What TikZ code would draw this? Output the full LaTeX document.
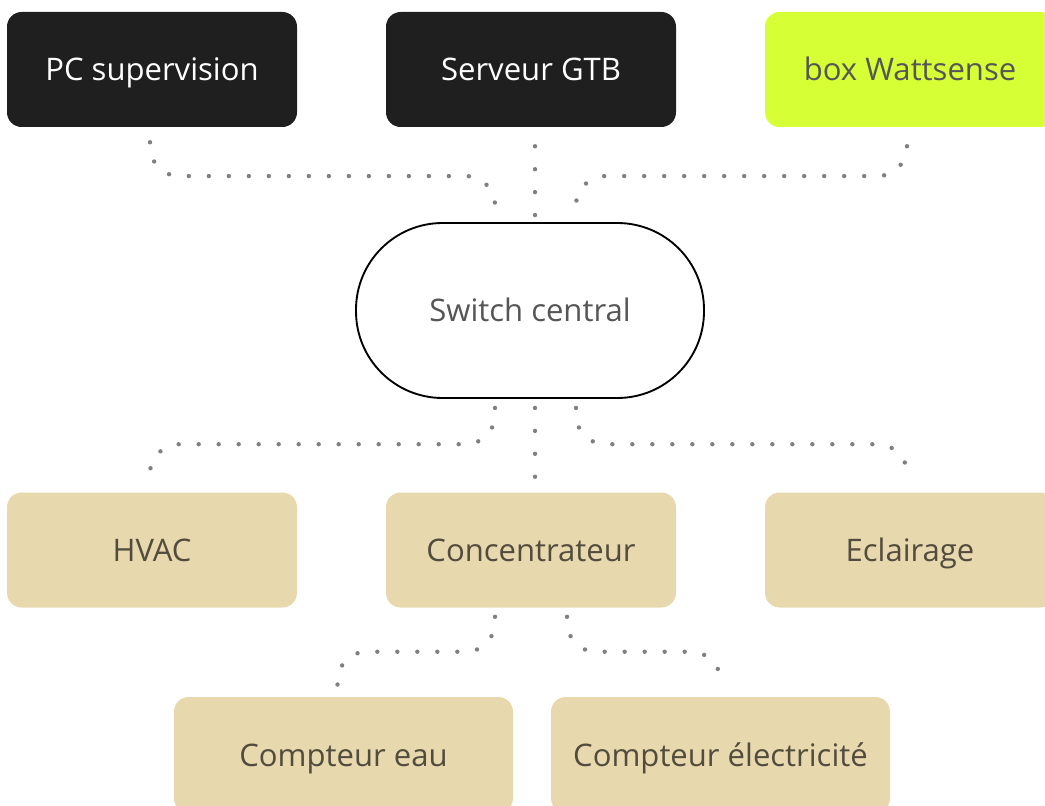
\documentclass[tikz,border=0pt]{standalone}
\usepackage{fontspec}
\setmainfont{Open Sans}
\usetikzlibrary{calc}

\definecolor{boxblack}{HTML}{1F1F1F}
\definecolor{wattlime}{HTML}{D7FF36}
\definecolor{sand}{HTML}{E8D8AD}
\definecolor{dotgray}{HTML}{808080}
\definecolor{inkgray}{HTML}{565656}
\definecolor{inksand}{HTML}{524C3E}

\tikzset{
  label font/.style={font=\fontsize{23.3}{28}\selectfont, text height=16.7pt, text depth=0pt},
  block/.style={rounded corners=11pt, minimum width=217.5pt, minimum height=86.25pt, inner sep=0pt, label font},
  darkbox/.style={block, fill=boxblack, text=white},
  limebox/.style={block, fill=wattlime, text=inkgray},
  sandbox/.style={block, fill=sand, text=inksand},
  meterbox/.style={sandbox, minimum width=254.25pt, minimum height=87pt},
  hub/.style={draw=black, line width=1.4pt, fill=white, rounded corners=65pt, minimum width=261pt, minimum height=131.25pt, inner sep=0pt, text=inkgray, label font},
  link/.style={dotgray, line width=3.3pt, line cap=round, dash pattern=on 0pt off 15pt, rounded corners=22pt},
  drop/.style={link, dash pattern=on 0pt off 17.2pt}
}

\begin{document}
\begin{tikzpicture}[x=0.75pt, y=-0.75pt]
    \clip (0,0) rectangle (1045,806);
    \useasboundingbox (0,0) rectangle (1045,806);

    % Top row
    \node[darkbox] (pc) at (152,69.5) {PC supervision};
    \node[darkbox] (gtb) at (531,69.5) {Serveur GTB};
    \node[limebox] (wat) at (910,69.5) {box Wattsense};

    % Switch
    \node[hub] (sw) at (530,310.5) {Switch central};

    % Middle row
    \node[sandbox] (hvac) at (152,550) {HVAC};
    \node[sandbox] (conc) at (531,550) {Concentrateur};
    \node[sandbox] (ecl) at (910,550) {Eclairage};

    % Meters
    \node[meterbox] (eau) at (343.5,755) {Compteur eau};
    \node[meterbox] (elec) at (720.5,755) {Compteur électricité};

    % Links to the switch
    \draw[link] ($(pc.south)+(-2,15)$) |- ($(sw.north)+(-35,-46)$) -- ($(sw.north)+(-35,-5)$);
    \draw[drop] ($(gtb.south)+(4,19)$) -- ($(sw.north)+(5,-5)$);
    \draw[link] ($(wat.south)+(-3,19)$) |- ($(sw.north)+(46,-46)$) -- ($(sw.north)+(46,-5)$);

    % Links from the switch
    \draw[link] ($(sw.south)+(-35,9)$) |- ($(hvac.north)+(-2,-48)$) -- ($(hvac.north)+(-2,-11)$);
    \draw[drop] ($(sw.south)+(5,9)$) -- ($(conc.north)+(4,-14)$);
    \draw[link] ($(sw.south)+(46,9)$) |- ($(ecl.north)+(-3,-48)$) -- ($(ecl.north)+(-3,-14)$);

    % Concentrateur to meters
    \draw[link] ($(conc.south)+(-36,9)$) |- ($(eau.north)+(-6,-45)$) -- ($(eau.north)+(-6,-8)$);
    \draw[link] ($(conc.south)+(36,9)$) |- ($(elec.north)+(0,-45)$) -- ($(elec.north)+(0,-13)$);
\end{tikzpicture}
\end{document}
